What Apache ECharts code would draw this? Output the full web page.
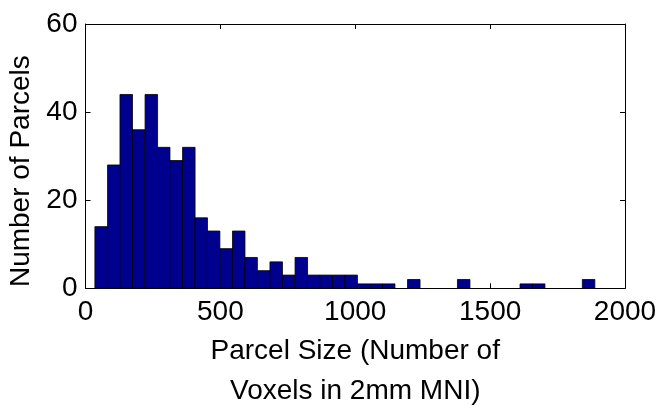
<!DOCTYPE html>
<html>
<head>
<meta charset="utf-8">
<script src="https://cdn.jsdelivr.net/npm/echarts@6/dist/echarts.min.js"></script>
<style>
html,body{margin:0;padding:0;background:#fff;}
#chart{width:659px;height:411px;}
</style>
</head>
<body>
<div id="chart"></div>
<script>
// Histogram bin centers (parcel size, voxels) and counts
const binCenters = [58, 105, 151, 197, 244, 290, 336, 383, 429, 475,
  522, 568, 614, 661, 707, 753, 800, 846, 892, 939,
  985, 1031, 1078, 1124, 1170, 1217, 1263, 1309, 1356, 1402,
  1448, 1495, 1541, 1587, 1634, 1680, 1726, 1773, 1819, 1865];
const binWidth = 46.33;
const counts = [14, 28, 44, 36, 44, 32, 29, 32, 16, 13,
  9, 13, 7, 4, 6, 3, 7, 3, 3, 3,
  3, 1, 1, 1, 0, 2, 0, 0, 0, 2,
  0, 0, 0, 0, 1, 1, 0, 0, 0, 2];
const xTicks = [0, 500, 1000, 1500, 2000];
const yTicks = [0, 20, 40, 60];
const xTitle = 'Parcel Size (Number of\nVoxels in 2mm MNI)';
const yTitle = 'Number of Parcels';

const data = binCenters.map((c, i) => [c - binWidth / 2, c + binWidth / 2, counts[i]]);
const FONT = 'Liberation Sans, Arial, Helvetica, sans-serif';

const chart = echarts.init(document.getElementById('chart'), null, {renderer: 'canvas'});
function axisCommon() {
  return {
    axisLine: {show: true, onZero: false, lineStyle: {color: '#000', width: 1}},
    axisTick: {show: true, inside: true, length: 5, lineStyle: {color: '#000'}},
    splitLine: {show: false}
  };
}
chart.setOption({
  animation: false,
  backgroundColor: '#fff',
  grid: {left: 85.5, right: 34, top: 24, bottom: 122.7, show: false,
    containLabel: false, outerBoundsMode: 'none'},
  xAxis: [
    Object.assign(axisCommon(), {
      type: 'value', min: xTicks[0], max: xTicks[xTicks.length - 1], interval: 500,
      position: 'bottom',
      axisLabel: {color: '#000', fontSize: 28, fontFamily: FONT, margin: 10,
        formatter: v => String(v)},
      name: xTitle, nameLocation: 'middle', nameGap: 43,
      nameTextStyle: {color: '#000', fontSize: 28, fontFamily: FONT, lineHeight: 40}
    }),
    Object.assign(axisCommon(), {
      type: 'value', min: xTicks[0], max: xTicks[xTicks.length - 1], interval: 500,
      position: 'top', axisLabel: {show: false}
    })
  ],
  yAxis: [
    Object.assign(axisCommon(), {
      type: 'value', min: yTicks[0], max: yTicks[yTicks.length - 1], interval: 20,
      position: 'left',
      axisLabel: {color: '#000', fontSize: 28, fontFamily: FONT, margin: 8,
        formatter: v => String(v)},
      name: yTitle, nameLocation: 'middle', nameGap: 43, nameRotate: 90,
      nameTextStyle: {color: '#000', fontSize: 28, fontFamily: FONT, padding: [0, 30, 0, 0]}
    }),
    Object.assign(axisCommon(), {
      type: 'value', min: yTicks[0], max: yTicks[yTicks.length - 1], interval: 20,
      position: 'right', axisLabel: {show: false}
    })
  ],
  series: [{
    type: 'custom',
    xAxisIndex: 0, yAxisIndex: 0,
    data: data,
    encode: {x: [0, 1], y: 2},
    renderItem: function (params, api) {
      const v = api.value(2);
      if (!v) return null;
      const p0 = api.coord([api.value(0), 0]);
      const p1 = api.coord([api.value(1), v]);
      return {
        type: 'rect',
        shape: {x: p0[0], y: p1[1], width: p1[0] - p0[0], height: p0[1] - p1[1]},
        style: {fill: '#00008F', stroke: '#000', lineWidth: 0.8}
      };
    }
  }]
});
</script>
</body>
</html>
